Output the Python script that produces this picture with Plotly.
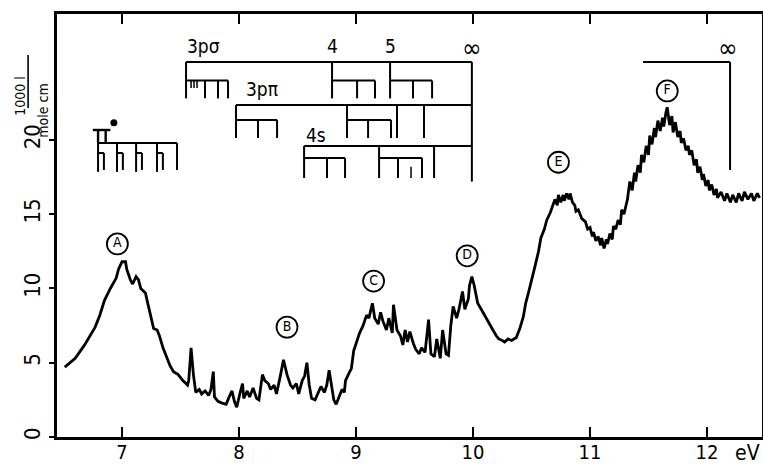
import plotly.graph_objects as go

# ---------------- data ----------------
energy_ev = [6.51, 6.60, 6.68, 6.77, 6.81, 6.85, 6.90, 6.92, 6.95, 6.97, 7.00, 7.03, 7.04, 7.07, 7.09,
             7.12, 7.14, 7.16, 7.20, 7.22, 7.25, 7.27, 7.30, 7.32, 7.35, 7.38, 7.41, 7.44, 7.48, 7.52,
             7.56, 7.57, 7.59, 7.61, 7.63, 7.66, 7.68, 7.71, 7.74, 7.76, 7.78, 7.79, 7.82, 7.85, 7.89,
             7.91, 7.94, 7.96, 7.98, 8.01, 8.03, 8.04, 8.07, 8.09, 8.12, 8.15, 8.17, 8.20, 8.22, 8.25,
             8.27, 8.30, 8.32, 8.35, 8.38, 8.41, 8.44, 8.46, 8.49, 8.51, 8.54, 8.56, 8.58, 8.60, 8.62,
             8.65, 8.68, 8.70, 8.73, 8.75, 8.77, 8.79, 8.81, 8.83, 8.85, 8.88, 8.90, 8.91, 8.94, 8.96,
             8.98, 9.01, 9.03, 9.06, 9.09, 9.11, 9.14, 9.16, 9.19, 9.21, 9.23, 9.26, 9.28, 9.31, 9.32,
             9.35, 9.38, 9.40, 9.42, 9.44, 9.46, 9.49, 9.51, 9.54, 9.56, 9.59, 9.62, 9.64, 9.67, 9.69,
             9.72, 9.74, 9.77, 9.79, 9.81, 9.83, 9.86, 9.88, 9.91, 9.93, 9.96, 9.97, 9.99, 10.01, 10.03,
             10.04, 10.07, 10.09, 10.12, 10.15, 10.17, 10.20, 10.22, 10.25, 10.27, 10.30, 10.33, 10.37, 10.40, 10.43,
             10.45, 10.48, 10.50, 10.53, 10.56, 10.58, 10.61, 10.63, 10.66, 10.68, 10.70, 10.72, 10.73, 10.75, 10.77,
             10.78, 10.80, 10.82, 10.83, 10.85, 10.87, 10.88, 10.90, 10.93, 10.96, 10.98, 11.00, 11.02, 11.03, 11.05,
             11.07, 11.09, 11.10, 11.12, 11.14, 11.15, 11.17, 11.19, 11.20, 11.22, 11.24, 11.26, 11.27, 11.29, 11.31,
             11.32, 11.34, 11.36, 11.38, 11.39, 11.41, 11.43, 11.44, 11.46, 11.48, 11.50, 11.51, 11.53, 11.55, 11.56,
             11.58, 11.60, 11.62, 11.63, 11.65, 11.66, 11.68, 11.70, 11.71, 11.73, 11.75, 11.77, 11.78, 11.80, 11.82,
             11.84, 11.85, 11.87, 11.89, 11.91, 11.92, 11.94, 11.96, 11.97, 11.99, 12.01, 12.02, 12.04, 12.06, 12.08,
             12.09, 12.12, 12.15, 12.17, 12.20, 12.22, 12.25, 12.27, 12.30, 12.32, 12.35, 12.38, 12.40, 12.43, 12.45]

extinction = [4.7, 5.3, 6.2, 7.4, 8.2, 9.2, 10.0, 10.3, 10.7, 11.3, 11.8, 11.8, 11.3, 10.6, 10.3,
              10.8, 10.6, 10.0, 9.7, 9.0, 8.0, 7.3, 7.2, 6.8, 6.0, 5.4, 4.8, 4.4, 4.2, 3.8,
              3.5, 3.8, 6.0, 4.2, 3.0, 3.2, 2.9, 3.1, 2.8, 3.2, 4.4, 2.7, 2.4, 2.3, 2.2,
              2.6, 3.1, 2.4, 2.0, 3.0, 3.6, 2.6, 3.1, 2.7, 3.3, 2.6, 2.5, 4.2, 3.8, 3.6,
              3.2, 3.5, 2.9, 4.0, 5.2, 4.2, 3.5, 3.3, 3.6, 2.9, 3.8, 4.1, 5.0, 3.5, 2.6,
              2.5, 3.0, 3.4, 3.0, 3.5, 4.5, 3.5, 2.5, 2.2, 2.6, 3.2, 3.0, 3.8, 4.3, 4.6,
              5.8, 6.5, 7.0, 7.5, 8.2, 8.0, 9.0, 8.0, 7.6, 8.4, 7.8, 7.2, 8.0, 7.0, 8.9,
              7.2, 6.8, 6.2, 7.2, 6.4, 7.1, 6.3, 5.9, 5.6, 6.0, 5.7, 7.9, 5.6, 5.4, 6.6,
              5.3, 7.2, 5.6, 5.5, 7.5, 8.8, 8.0, 8.6, 9.8, 8.6, 9.3, 10.2, 10.8, 10.2, 9.3,
              9.0, 8.6, 8.3, 7.9, 7.5, 7.2, 6.8, 6.6, 6.5, 6.4, 6.6, 6.5, 6.7, 7.3, 8.1,
              9.0, 9.9, 10.5, 11.5, 12.5, 13.4, 14.0, 14.6, 15.1, 15.5, 16.0, 15.6, 16.3, 15.8, 16.3,
              15.9, 16.4, 16.0, 16.4, 15.8, 15.6, 15.2, 15.3, 14.7, 14.5, 14.0, 14.1, 13.5, 13.8, 13.2,
              13.5, 12.9, 13.4, 12.7, 13.3, 13.0, 13.7, 13.3, 14.2, 14.0, 14.6, 14.3, 15.3, 15.0, 15.8,
              16.0, 17.2, 16.6, 17.8, 17.2, 18.3, 17.8, 19.0, 18.5, 19.6, 19.0, 20.3, 19.7, 20.8, 20.2,
              21.3, 20.6, 21.5, 20.9, 21.9, 22.2, 21.0, 21.6, 20.5, 21.2, 20.2, 20.6, 19.8, 20.1, 19.3,
              19.6, 19.0, 19.3, 18.3, 18.7, 17.8, 18.2, 17.3, 17.7, 16.9, 17.3, 16.6, 17.0, 16.3, 16.7,
              16.1, 16.5, 15.9, 16.4, 15.8, 16.3, 15.8, 16.4, 15.9, 16.5, 16.0, 16.4, 15.9, 16.4, 16.1]

band_labels = ["A", "B", "C", "D", "E", "F"]
band_ev = [6.96, 8.41, 9.15, 9.95, 10.73, 11.66]
band_y = [13.0, 7.4, 10.5, 12.2, 18.5, 23.3]

x_ticks = [7, 8, 9, 10, 11, 12]
y_ticks = [0, 5, 10, 15, 20]

# Rydberg series level energies (eV)
ion_limit = 9.99
ser_3ps = [7.547, 8.795, 9.291]          # 3p sigma, n = 3, 4, 5
ser_3ps_sub = [[7.709, 7.82, 7.906], [9.009, 9.162], [9.487, 9.65]]
ser_3pp = [7.974, 8.923]
ser_3pp_sub = [[8.162, 8.325], [9.103, 9.299]]
ser_3pp_extra = [9.35, 9.581]
ser_4s = [8.556, 9.197]
ser_4s_sub = [[8.752, 8.906], [9.359, 9.564]]
ser_4s_extra = [9.667]
pi_star = [6.795, 6.957, 7.12, 7.299]
pi_star_end = 7.47
limit_2 = 12.197
limit_2_start = 11.453

# ---------------- figure ----------------
FONT = "DejaVu Sans Condensed, Liberation Sans Narrow, Arial Narrow, DejaVu Sans, sans-serif"
fig = go.Figure()
fig.add_trace(go.Scatter(x=energy_ev, y=extinction, mode="lines",
                         line=dict(color="black", width=2.8), hoverinfo="skip"))
fig.add_trace(go.Scatter(x=band_ev, y=band_y, mode="markers+text", text=band_labels,
                         textposition="middle center",
                         textfont=dict(family=FONT, size=14, color="black"),
                         marker=dict(symbol="circle-open", size=21, color="black",
                                     line=dict(width=1.8, color="black")),
                         hoverinfo="skip"))
# dot of the pi* label
fig.add_trace(go.Scatter(x=[6.93], y=[21.15], mode="markers",
                         marker=dict(size=7, color="black"), hoverinfo="skip"))

shapes = []
def seg(x0, y0, x1, y1, w=2.0):
    shapes.append(dict(type="line", xref="x", yref="y", x0=x0, y0=y0, x1=x1, y1=y1,
                       line=dict(color="black", width=w)))

# row 1: 3p sigma
r1_top, r1_sub, r1_bot = 25.25, 24.0, 22.8
seg(ser_3ps[0], r1_top, ion_limit, r1_top)
for i, e in enumerate(ser_3ps):
    seg(e, r1_top, e, r1_bot)
    sub = ser_3ps_sub[i]
    seg(e, r1_sub, sub[-1], r1_sub)
    for s in sub:
        seg(s, r1_sub, s, r1_bot)
for s in [7.59, 7.615, 7.641]:
    seg(s, r1_sub, s, 23.5, 1.5)
seg(ion_limit, r1_top, ion_limit, 17.2)

# row 2: 3p pi
r2_top, r2_sub, r2_bot = 22.36, 21.35, 20.13
seg(ser_3pp[0], r2_top, ion_limit, r2_top)
for i, e in enumerate(ser_3pp):
    seg(e, r2_top, e, r2_bot)
    sub = ser_3pp_sub[i]
    seg(e, r2_sub, sub[-1], r2_sub)
    for s in sub:
        seg(s, r2_sub, s, r2_bot)
for e in ser_3pp_extra:
    seg(e, r2_top, e, r2_bot)

# row 3: 4s
r3_top, r3_sub, r3_bot = 19.6, 18.79, 17.44
seg(ser_4s[0], r3_top, ion_limit, r3_top)
for i, e in enumerate(ser_4s):
    seg(e, r3_top, e, r3_bot)
    sub = ser_4s_sub[i]
    seg(e, r3_sub, sub[-1], r3_sub)
    for s in sub:
        seg(s, r3_sub, s, r3_bot)
seg(9.47, 18.2, 9.47, r3_bot, 1.5)
for e in ser_4s_extra:
    seg(e, r3_top, e, r3_bot)

# pi* comb
p_top, p_sub, p_bot = 19.8, 19.12, 17.85
seg(pi_star[0], p_top, pi_star_end, p_top)
for e in pi_star:
    seg(e, p_top, e, p_bot)
    seg(e, p_sub, e + 0.05, p_sub)
    seg(e + 0.05, p_sub, e + 0.05, 17.98)
seg(pi_star_end, p_top, pi_star_end, 17.98)
# pi glyph drawn as strokes
seg(6.75, 20.67, 6.90, 20.67, 2.4)
seg(pi_star[0], 20.67, pi_star[0], p_top, 2.4)
seg(6.86, 20.67, 6.86, p_top, 2.4)

# second ionisation limit
seg(limit_2_start, r1_top, limit_2, r1_top)
seg(limit_2, r1_top, limit_2, 17.98)

# fraction bar of the unit label
shapes.append(dict(type="line", xref="paper", yref="paper",
                   x0=-0.041, x1=-0.041, y0=0.778, y1=0.903,
                   line=dict(color="black", width=1.6)))

annotations = []
def txt(x, y, s, size=19, xref="x", yref="y", angle=0):
    annotations.append(dict(x=x, y=y, xref=xref, yref=yref, text=s, showarrow=False,
                            textangle=angle, font=dict(family=FONT, size=size, color="black")))

txt(7.7, 26.3, "3pσ")
txt(8.795, 26.3, "4")
txt(9.291, 26.3, "5")
txt(9.99, 26.2, "∞", 26)
txt(12.18, 26.2, "∞", 26)
txt(8.20, 23.4, "3pπ")
txt(8.66, 20.3, "4s")
txt(-0.066, 0.86, "1000 l", 14, "paper", "paper", -90)
txt(-0.034, 0.84, "mole cm", 14, "paper", "paper", -90)
txt(1.0, -0.038, "eV", 21, "paper", "paper")
annotations[-1].update(xanchor="right", yanchor="middle")

fig.update_layout(
    width=763, height=464,
    margin=dict(l=57, r=1, t=14, b=27),
    paper_bgcolor="white", plot_bgcolor="white",
    showlegend=False,
    shapes=shapes, annotations=annotations,
    font=dict(family=FONT, size=20, color="black"),
    xaxis=dict(range=[6.444, 12.47], tickvals=x_ticks, ticktext=[str(v) for v in x_ticks],
               ticks="inside", ticklen=10, tickwidth=2, tickcolor="black",
               showline=True, linecolor="black", linewidth=2.5, mirror="ticks",
               showgrid=False, zeroline=False, tickfont=dict(size=20), automargin=False,
               ticklabelstandoff=-5),
    yaxis=dict(range=[0, 28.48], tickvals=y_ticks, ticktext=[str(v) for v in y_ticks],
               ticks="outside", ticklen=5, tickwidth=2, tickcolor="black", tickangle=-90,
               showline=True, linecolor="black", linewidth=2.5, mirror=True,
               showgrid=False, zeroline=False, tickfont=dict(size=22), automargin=False),
)

fig.write_html("out.html")
